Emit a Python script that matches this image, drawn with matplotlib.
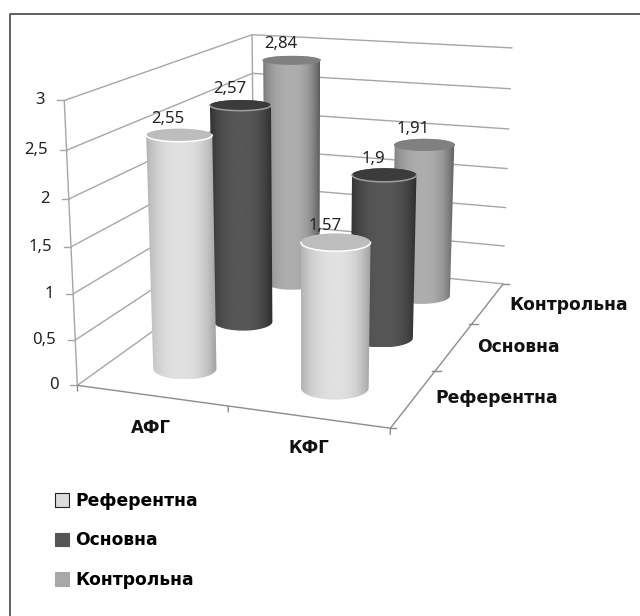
"""Excel style 3D cylinder chart, drawn on a plain axes with a fitted projection."""

import matplotlib

matplotlib.use("Agg")
import matplotlib.pyplot as plt
import numpy as np
from matplotlib.patches import Patch, Polygon

plt.rcParams["font.family"] = ["Noto Sans", "DejaVu Sans"]

categories = ["АФГ", "КФГ"]
series_names = ["Референтна", "Основна", "Контрольна"]
values_referent = [2.55, 1.57]
values_main = [2.57, 1.90]
values_control = [2.84, 1.91]
z_ticks = [0, 0.5, 1, 1.5, 2, 2.5, 3]
z_labels = ["0", "0,5", "1", "1,5", "2", "2,5", "3"]

# gray levels: left edge, centre, right edge, top face, rim, legend swatch
STYLES = {
    "Референтна": (0.70, 0.88, 0.62, 0.74, 1.00, "#dcdcdc"),
    "Основна": (0.20, 0.34, 0.17, 0.23, 0.62, "#555555"),
    "Контрольна": (0.48, 0.68, 0.36, 0.50, 0.50, "#a8a8a8"),
}

RX = 0.218
RY = 0.21
GRID = "#a6a6a6"
AXIS = "#8c8c8c"
BOLD = {"family": "DejaVu Sans", "weight": "bold"}


def fit_projection():
    """Camera matrix from where the corners of the chart box land on the image."""
    world = [
        (0, 0, 0), (0, 0, 3), (0, 3, 0), (0, 3, 3),
        (2, 3, 0), (2, 3, 3), (2, 0, 0),
    ]
    image = [
        (77, 386), (65, 100), (255, 258), (251, 35),
        (503, 284), (513, 48), (390, 428),
    ]
    rows = []
    rhs = []
    for (x, y, z), (u, v) in zip(world, image):
        rows.append([x, y, z, 1, 0, 0, 0, 0, -u * x, -u * y, -u * z])
        rows.append([0, 0, 0, 0, x, y, z, 1, -v * x, -v * y, -v * z])
        rhs += [u, v]
    m = np.linalg.lstsq(np.array(rows, float), np.array(rhs, float), rcond=None)[0]
    return np.append(m, 1.0).reshape(3, 4)


CAMERA = fit_projection()


def project(x, y, z):
    p = CAMERA @ np.array([x, y, z, 1.0])
    return p[0] / p[2], p[1] / p[2]


def line3d(ax, start, end, color=GRID, lw=1.0):
    u0, v0 = project(*start)
    u1, v1 = project(*end)
    ax.plot([u0, u1], [v0, v1], color=color, lw=lw, solid_capstyle="butt", zorder=1)


def hline_tick(ax, point, left, right, color=GRID):
    u, v = project(*point)
    ax.plot([u - left, u + right], [v, v], color=color, lw=1.0, zorder=1)


def ring(x0, y0, z):
    """Half axes of the disc at height z, as they come out on the image."""
    cu, cv = project(x0, y0, z)
    a = abs(project(x0 + RX, y0, z)[0] - project(x0 - RX, y0, z)[0]) / 2
    b = abs(project(x0, y0 + RY, z)[1] - project(x0, y0 - RY, z)[1]) / 2
    return cu, cv, a, b


def draw_cylinder(ax, x0, y0, height, style, zorder):
    left, centre, right, top, rim, _ = style
    t = np.linspace(0, np.pi, 80)
    bu, bv, ba, bb = ring(x0, y0, 0.0)
    tu, tv, ta, tb = ring(x0, y0, height)

    # left to right along the front of the base, back along the rear of the top
    outline = np.vstack([
        np.column_stack([bu - ba * np.cos(t), bv + bb * np.sin(t)]),
        np.column_stack([tu + ta * np.cos(t), tv - tb * np.sin(t)]),
    ])
    clip = Polygon(outline, closed=True, transform=ax.transData, fc="none", ec="none")
    ax.add_patch(clip)

    # side shading across the width of the bar
    s = np.linspace(-1, 1, 200)
    shade = np.where(s < 0,
                     centre + (left - centre) * np.abs(s) ** 2.5,
                     centre + (right - centre) * np.abs(s) ** 2.5)
    u_min, u_max = outline[:, 0].min(), outline[:, 0].max()
    v_min, v_max = outline[:, 1].min(), outline[:, 1].max()
    img = ax.imshow(shade[None, :], extent=(u_min, u_max, v_max, v_min), cmap="gray",
                    vmin=0, vmax=1, aspect="auto", zorder=zorder, interpolation="bilinear")
    img.set_clip_path(clip)

    th = np.linspace(0, 2 * np.pi, 160)
    ax.fill(tu + ta * np.cos(th), tv + tb * np.sin(th), color=(top, top, top), lw=0,
            zorder=zorder + 0.1)
    ax.plot(tu + ta * np.cos(t), tv + tb * np.sin(t), color=(rim, rim, rim), lw=1.1,
            zorder=zorder + 0.2)


def main():
    fig = plt.figure(figsize=(6.4, 6.16), dpi=100)
    ax = fig.add_axes([0, 0, 1, 1])
    ax.axis("off")

    # chart frame, the right and bottom sides fall outside the crop
    ax.plot([10, 10, 640], [616, 14, 14], color="#555555", lw=1.3, zorder=0)

    # walls
    for z in z_ticks:
        line3d(ax, (0, 3, z), (2, 3, z))
        line3d(ax, (0, 0, z), (0, 3, z))
        hline_tick(ax, (0, 0, z), 7, 0)
    line3d(ax, (0, 0, 0), (0, 0, 3))
    line3d(ax, (0, 3, 0), (0, 3, 3))

    # floor edges and their ticks
    line3d(ax, (0, 0, 0), (2, 0, 0), color=AXIS)
    line3d(ax, (2, 0, 0), (2, 3, 0), color=AXIS)
    for x in range(3):
        line3d(ax, (x, 0, 0), (x, 0, -0.07), color=AXIS)
    for y in range(4):
        hline_tick(ax, (2, y, 0), 3 if 0 < y < 3 else 0, 6, color=AXIS)

    # bars, back row first
    rows = [
        (2.5, values_control, series_names[2]),
        (1.5, values_main, series_names[1]),
        (0.5, values_referent, series_names[0]),
    ]
    zorder = 3
    labels = []
    for y0, values, name in rows:
        for j, value in enumerate(values):
            draw_cylinder(ax, j + 0.5, y0, value, STYLES[name], zorder)
            u, v = project(j + 0.5, y0, value)
            labels.append((u - 11, v - 16, f"{value:g}".replace(".", ",")))
            zorder += 1
    for u, v, text in labels:
        ax.text(u, v, text, fontsize=12, color="#222222", ha="center", va="center",
                zorder=20)

    for z, text in zip(z_ticks, z_labels):
        u, v = project(0, 0, z)
        ax.text(u - 19, v, text, fontsize=12, color="#222222", ha="right", va="center")

    for text, (u, v) in zip(categories, [(151, 428), (309, 448)]):
        ax.text(u, v, text, fontsize=12, color="#111111", ha="center", va="center", **BOLD)
    for text, (u, v) in zip(series_names, [(497, 398), (518, 347), (569, 305)]):
        ax.text(u, v, text, fontsize=12.3, color="#111111", ha="center", va="center", **BOLD)

    handles = [
        Patch(facecolor=STYLES[name][5],
              edgecolor="#222222" if name == series_names[0] else STYLES[name][5],
              linewidth=0.8)
        for name in series_names
    ]
    ax.legend(handles, series_names, loc="upper left", bbox_to_anchor=(0.086, 0.2016),
              frameon=False, handlelength=0.82, handleheight=0.82, handletextpad=0.35,
              labelspacing=1.26, borderpad=0, borderaxespad=0,
              prop={"size": 12.3, **BOLD})

    ax.set_xlim(0, 640)
    ax.set_ylim(616, 0)
    fig.savefig("out.png", dpi=100, facecolor="white")


if __name__ == "__main__":
    main()
